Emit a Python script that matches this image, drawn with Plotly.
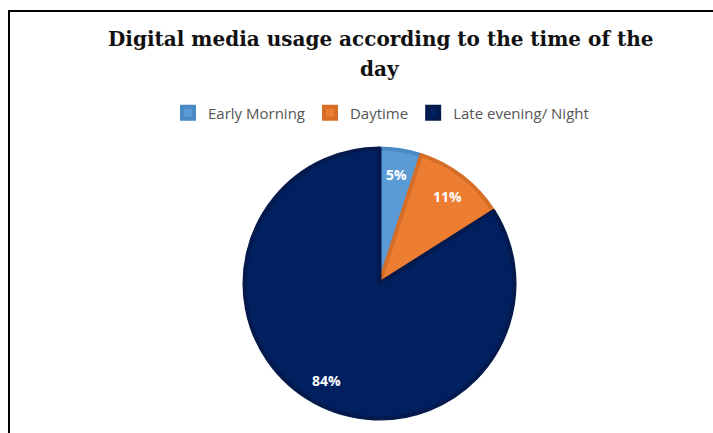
import math
import plotly.graph_objects as go

# Share of digital media usage by time of day
periods = ["Early Morning", "Daytime", "Late evening/ Night"]
shares = [5, 11, 84]
fill_colors = ["#5B9BD5", "#ED7D31", "#002060"]
edge_colors = ["#4B89C4", "#D66E27", "#04194C"]
title_lines = ["Digital media usage according to the time of the", "day"]

W, H = 713, 433
# pie placement in pixels
cx, cy, rad = 379.5, 283.5, 135.0
label_r = 0.82  # labels sit at this fraction of the radius

fig = go.Figure(
    go.Pie(
        labels=periods,
        values=shares,
        sort=False,
        direction="clockwise",
        rotation=0,
        marker=dict(colors=fill_colors, line=dict(color=edge_colors, width=4)),
        textinfo="none",
        hoverinfo="label+value",
        domain=dict(x=[(cx - rad) / W, (cx + rad) / W],
                    y=[1 - (cy + rad) / H, 1 - (cy - rad) / H]),
    )
)

# percentage labels at each slice's mid-angle (clockwise from 12 o'clock)
annotations = []
total = sum(shares)
start = 0.0
for v in shares:
    mid = (start + v / 2) / total * 2 * math.pi
    start += v
    px = cx + label_r * rad * math.sin(mid)
    py = cy - label_r * rad * math.cos(mid)
    annotations.append(dict(
        x=px / W, y=1 - py / H, xref="paper", yref="paper",
        text=f"<b>{v}%</b>", showarrow=False,
        font=dict(family="Open Sans", size=14, color="white"),
        xanchor="center", yanchor="middle",
    ))

# two-line chart title
for line, ty in zip(title_lines, [39, 69]):
    annotations.append(dict(
        x=380 / W, y=1 - ty / H, xref="paper", yref="paper",
        text=f"<b>{line}</b>", showarrow=False,
        font=dict(family="DejaVu Serif", size=20, color="#111111"),
        xanchor="center", yanchor="middle",
    ))

fig.update_layout(
    width=W,
    height=H,
    margin=dict(l=0, r=0, t=0, b=0),
    paper_bgcolor="white",
    plot_bgcolor="white",
    annotations=annotations,
    legend=dict(
        orientation="h",
        x=381 / W,
        xanchor="center",
        y=1 - 113 / H,
        yanchor="middle",
        font=dict(family="Open Sans", size=15, color="#555555"),
        traceorder="normal",
    ),
    shapes=[
        dict(
            type="rect",
            xref="paper",
            yref="paper",
            x0=9 / W,
            y0=-0.05,
            x1=1.05,
            y1=1 - 11 / H,
            line=dict(color="black", width=2),
        )
    ],
)

fig.write_html("out.html")
